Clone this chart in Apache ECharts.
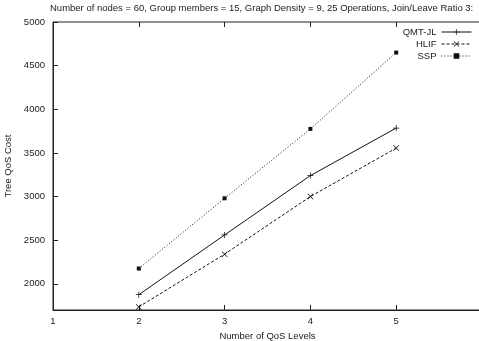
<!DOCTYPE html>
<html lang="en">
<head>
    <meta charset="UTF-8" />
    <title>Tree QoS Cost</title>
    <script src="https://cdn.jsdelivr.net/npm/echarts@6/dist/echarts.min.js"></script>
    <style>
        html, body { margin: 0; padding: 0; background: #fff; }
    </style>
</head>
<body>
    <div id="chart" style="width: 479px; height: 341px"></div>
    <script>
        var qosLevels = [2, 3, 4, 5];
        var qmtJl = [1875, 2560, 3240, 3785];
        var hlif = [1735, 2340, 3000, 3555];
        var ssp = [2175, 2980, 3775, 4650];
        var yTicks = [2000, 2500, 3000, 3500, 4000, 4500, 5000];
        var xTicks = [1, 2, 3, 4, 5, 6];

        function pairs(ys) {
            var out = [];
            for (var i = 0; i < qosLevels.length; i++) {
                out.push([qosLevels[i], ys[i]]);
            }
            return out;
        }

        // gnuplot style point markers
        var plusSym = 'path://M4.4,0h1.2v4.4h4.4v1.2h-4.4v4.4h-1.2v-4.4h-4.4v-1.2h4.4z';
        var crossSym = 'path://M1,0.2L5,4.2L9,0.2L9.8,1L5.8,5L9.8,9L9,9.8L5,5.8L1,9.8L0.2,9L4.2,5L0.2,1z';
        var boxSym = 'path://M0,0h10v10h-10z';

        var font = 'Liberation Sans, Arial, sans-serif';
        var fs = 9.5;
        var chart = echarts.init(document.getElementById('chart'));

        var option = {
            animation: false,
            textStyle: { fontFamily: font, color: '#222' },
            title: {
                text: 'Number of nodes = 60, Group members = 15, Graph Density = 9, 25 Operations, Join/Leave Ratio 3:',
                left: 50,
                top: 3,
                padding: 0,
                textStyle: { fontSize: fs, fontWeight: 'normal', color: '#222', fontFamily: font }
            },
            legend: {
                orient: 'vertical',
                right: 7,
                top: 27,
                align: 'right',
                itemWidth: 30,
                itemHeight: 7,
                itemGap: 2,
                padding: 0,
                lineStyle: { width: 1 },
                textStyle: { fontSize: fs, color: '#222', fontFamily: font },
                data: ['QMT-JL', 'HLIF', 'SSP']
            },
            grid: {
                left: 53,
                top: 22,
                width: 429,
                bottom: 31,
                outerBoundsMode: 'none',
                show: true,
                borderColor: '#222',
                borderWidth: 1
            },
            xAxis: [{
                type: 'value',
                min: 1,
                max: 6,
                interval: 1,
                name: 'Number of QoS Levels',
                nameLocation: 'middle',
                nameGap: 18,
                nameTextStyle: { fontSize: fs, color: '#222', fontFamily: font },
                axisLine: { lineStyle: { color: '#222', width: 1 } },
                axisTick: { inside: true, length: 5, lineStyle: { color: '#222' } },
                axisLabel: { fontSize: fs, color: '#222', margin: 6,
                    customValues: xTicks, showMaxLabel: true, hideOverlap: false },
                splitLine: { show: false }
            }, {
                type: 'value',
                position: 'top',
                min: 1,
                max: 6,
                interval: 1,
                axisLine: { show: false },
                axisTick: { inside: true, length: 5, lineStyle: { color: '#222' } },
                axisLabel: { show: false },
                splitLine: { show: false }
            }],
            yAxis: {
                type: 'value',
                min: 1700,
                max: 5000,
                name: 'Tree QoS Cost',
                nameLocation: 'middle',
                nameGap: 34,
                nameTextStyle: { fontSize: fs, color: '#222', fontFamily: font },
                axisLine: { show: true, lineStyle: { color: '#222', width: 1 } },
                axisTick: { inside: true, length: 5, lineStyle: { color: '#222' },
                    customValues: yTicks },
                axisLabel: { fontSize: fs, color: '#222', margin: 8,
                    customValues: yTicks,
                    formatter: function (v) { return String(v); } },
                splitLine: { show: false }
            },
            series: [
                {
                    name: 'QMT-JL',
                    type: 'line',
                    data: pairs(qmtJl),
                    symbol: plusSym,
                    symbolSize: 6,
                    lineStyle: { color: '#111', width: 1, type: 'solid' },
                    itemStyle: { color: '#111' }
                },
                {
                    name: 'HLIF',
                    type: 'line',
                    data: pairs(hlif),
                    symbol: crossSym,
                    symbolSize: 6,
                    lineStyle: { color: '#111', width: 1, type: [3, 2] },
                    itemStyle: { color: '#111' }
                },
                {
                    name: 'SSP',
                    type: 'line',
                    data: pairs(ssp),
                    symbol: boxSym,
                    symbolSize: 4,
                    lineStyle: { color: '#111', width: 1, type: [1, 2] },
                    itemStyle: { color: '#111' }
                }
            ]
        };
        chart.setOption(option);
    </script>
</body>
</html>
